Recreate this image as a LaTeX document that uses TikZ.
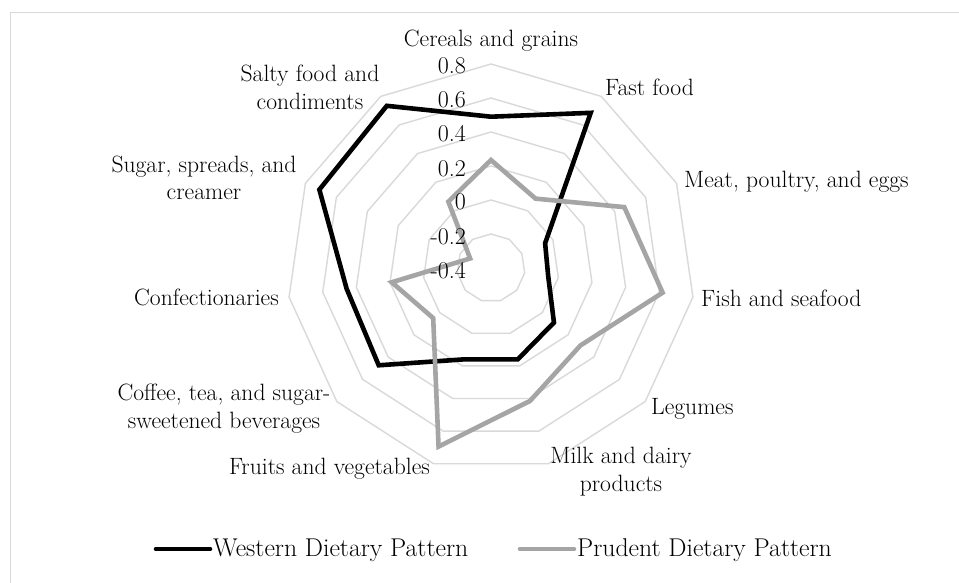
\documentclass[tikz,border=0pt]{standalone}
\usepackage{fontspec}
\definecolor{gridc}{HTML}{D9D9D9}
\definecolor{prudc}{HTML}{A5A5A5}
\begin{document}
\begin{tikzpicture}[x=1pt,y=-1pt,
  lab/.style={font=\fontsize{23.6}{28}\selectfont, inner sep=0pt},
  legtxt/.style={font=\fontsize{25.7}{30}\selectfont, inner sep=0pt, anchor=base west},
  ticklab/.style={font=\fontsize{24}{28}\selectfont, inner sep=0pt, anchor=base east},
  ring/.style={draw=gridc, line width=1.4pt},
  westline/.style={draw=black, line width=4.6pt},
  prudline/.style={draw=prudc, line width=4.6pt}]
\useasboundingbox (0,0) rectangle (959,583);
\fill[white] (0,0) rectangle (959,583);
\draw[draw=gridc, line width=1.6pt] (10.5,583) -- (10.5,12.5) -- (959,12.5);

\begin{scope}[shift={(491,268)}]
  % grid rings
  \foreach \r in {34,68,102,136,170,204} {
    \draw[ring] (-90:\r) \foreach \k in {1,...,10} { -- ({-90+32.72727*\k}:\r) } -- cycle;
  }
  % data points
  \foreach \v [count=\k from 0] in {0.49,0.685,-0.05,-0.06,0.09,0.16,0.16,0.474,0.458,0.71,0.734}
    \coordinate (w\k) at ({-90+32.72727*\k}:{(\v+0.4)*170});
  \foreach \v [count=\k from 0] in {0.235,0.085,0.462,0.62,0.296,0.415,0.695,0.05,0.19,-0.265,0.064}
    \coordinate (p\k) at ({-90+32.72727*\k}:{(\v+0.4)*170});
\end{scope}

\draw[westline] (w0) -- (w1) -- (w2) -- (w3) -- (w4) -- (w5) -- (w6) -- (w7) -- (w8) -- (w9) -- (w10) -- cycle;
\draw[prudline] (p0) -- (p1) -- (p2) -- (p3) -- (p4) -- (p5) -- (p6) -- (p7) -- (p8) -- (p9) -- (p10) -- cycle;

% tick labels
\node[ticklab] (t08) at (466,74) {0.8};
\node[ticklab] (t06) at (466,108) {0.6};
\node[ticklab] (t04) at (466,142) {0.4};
\node[ticklab] (t02) at (466,176) {0.2};
\node[ticklab] (t00) at (466,210) {0};
\node[ticklab] (tm02) at (466,244) {-0.2};
\node[ticklab] (tm04) at (466,278) {-0.4};

% category labels
\node[lab, anchor=base] (cer) at (491,47) {Cereals and grains};
\node[lab, anchor=base west] (fast) at (605,96) {Fast food};
\node[lab, anchor=base west] (meat) at (684,188) {Meat, poultry, and eggs};
\node[lab, anchor=base west] (fish) at (701,306) {Fish and seafood};
\node[lab, anchor=base west] (leg) at (651,414) {Legumes};
\node[lab, anchor=base] (milk1) at (621,463) {Milk and dairy};
\node[lab, anchor=base] (milk2) at (621,491) {products};
\node[lab, anchor=base east] (fruit) at (430,474) {Fruits and vegetables};
\node[lab, anchor=base] (cof1) at (224,400) {Coffee, tea, and sugar-};
\node[lab, anchor=base] (cof2) at (224,428) {sweetened beverages};
\node[lab, anchor=base east] (conf) at (279,305) {Confectionaries};
\node[lab, anchor=base] (sug1) at (204,172) {Sugar, spreads, and};
\node[lab, anchor=base] (sug2) at (204,200) {creamer};
\node[lab, anchor=base] (sal1) at (310,82) {Salty food and};
\node[lab, anchor=base] (sal2) at (310,110) {condiments};

% legend
\coordinate (lwa) at (156,549);
\coordinate (lwb) at (210,549);
\coordinate (lpa) at (520,549);
\coordinate (lpb) at (574,549);
\draw[westline, line cap=round] (lwa) -- (lwb);
\draw[prudline, line cap=round] (lpa) -- (lpb);
\node[legtxt] (lw) at (213,556) {Western Dietary Pattern};
\node[legtxt] (lp) at (577,556) {Prudent Dietary Pattern};
\end{tikzpicture}
\end{document}
